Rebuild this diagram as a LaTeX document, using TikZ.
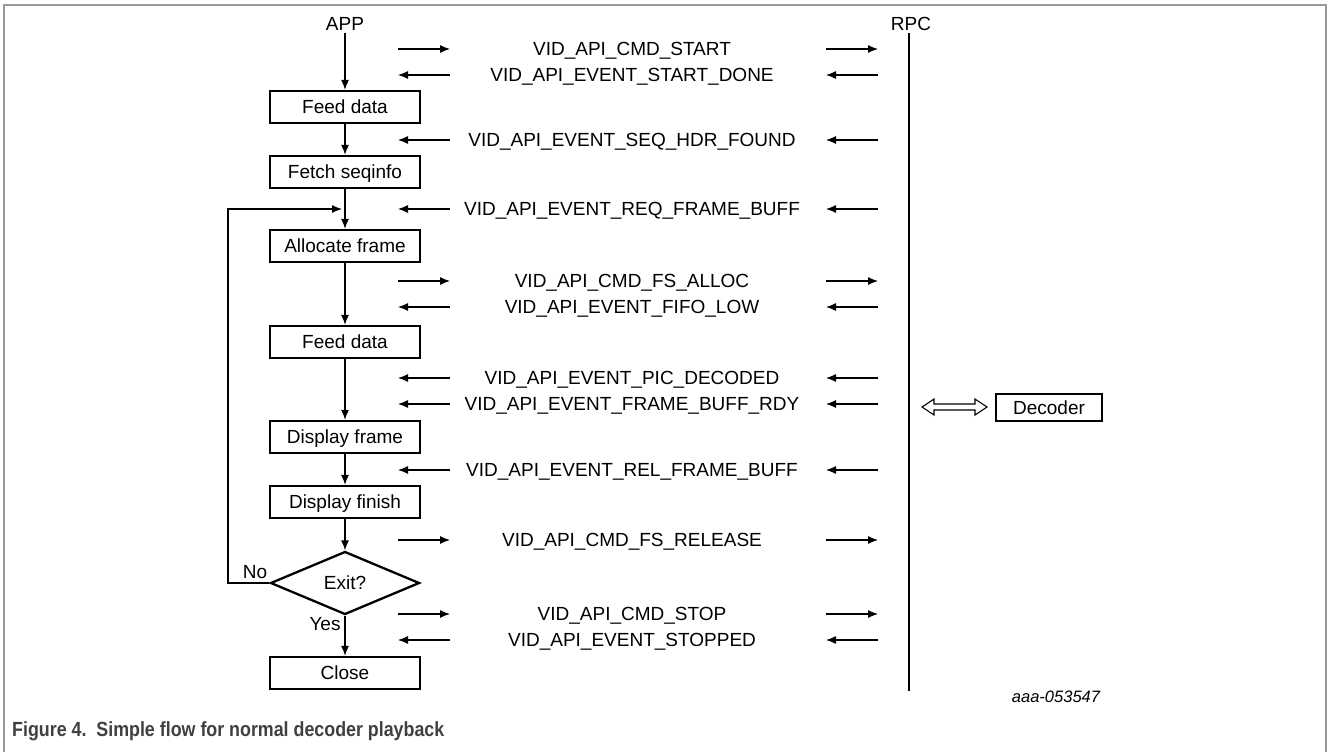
\documentclass[tikz,border=0pt]{standalone}
\usepackage{fontspec}
\setmainfont{Liberation Sans}
\newfontfamily\capfont[FakeStretch=0.87]{Liberation Sans}
\usetikzlibrary{arrows.meta,shapes.geometric}
\begin{document}
\begin{tikzpicture}[x=1pt,y=-1pt,
  txt/.style={font=\fontsize{19}{21}\selectfont,inner sep=0pt,text height=13.6pt,text depth=0pt},
  box/.style={txt,draw,line width=2.3pt,minimum width=150pt,minimum height=32pt},
  flow/.style={line width=1.2pt,-{Latex[length=10pt,width=8pt]}},
  msg/.style={line width=1.2pt,-{Latex[length=10pt,width=8pt]}},
  frame/.style={draw=black!40,line width=1.2pt}]
\useasboundingbox (0,0) rectangle (1328,752);
\draw[frame] (4,752) -- (4,5) -- (1326,5) -- (1326,752);

% lifelines
\node[txt] (app) at (345,24) {APP};
\node[txt] (rpc) at (911,24) {RPC};
\coordinate (rpcT) at (909,33);
\coordinate (rpcB) at (909,691);
\draw[line width=1.5pt] (rpcT) -- (rpcB);

% flow boxes
\node[box] (feed1) at (345,107) {Feed data};
\node[box] (fetch) at (345,172) {Fetch seqinfo};
\node[box] (alloc) at (345,246) {Allocate frame};
\node[box] (feed2) at (345,342) {Feed data};
\node[box] (dispf) at (345,437) {Display frame};
\node[box] (dispe) at (345,502) {Display finish};
\node[txt,draw,diamond,line width=2.3pt,minimum width=149pt,minimum height=63pt,aspect=2.37] (exit) at (345,583) {Exit?};
\node[box] (close) at (345,673) {Close};

\draw[flow,shorten <=2pt] (app) -- (feed1);
\draw[flow] (feed1) -- (fetch);
\draw[flow] (fetch) -- (alloc);
\draw[flow] (alloc) -- (feed2);
\draw[flow] (feed2) -- (dispf);
\draw[flow] (dispf) -- (dispe);
\draw[flow] (dispe) -- (exit);
\draw[flow] (exit) -- (close);

% loop back
\coordinate (loopL) at (228,583);
\coordinate (loopT) at (228,209);
\coordinate (loopE) at (342,209);
\draw[flow] (exit.west) -- (loopL) -- (loopT) -- (loopE);
\node[txt] (no) at (255,571.5) {No};
\node[txt] (yes) at (325,624) {Yes};

% messages
\foreach \i/\y/\t/\a/\b in {
  1/49/{VID\_API\_CMD\_START}/398/450,
  2/75/{VID\_API\_EVENT\_START\_DONE}/450/398,
  3/140/{VID\_API\_EVENT\_SEQ\_HDR\_FOUND}/450/398,
  4/209/{VID\_API\_EVENT\_REQ\_FRAME\_BUFF}/450/398,
  5/281/{VID\_API\_CMD\_FS\_ALLOC}/398/450,
  6/307/{VID\_API\_EVENT\_FIFO\_LOW}/450/398,
  7/378/{VID\_API\_EVENT\_PIC\_DECODED}/450/398,
  8/404/{VID\_API\_EVENT\_FRAME\_BUFF\_RDY}/450/398,
  9/470/{VID\_API\_EVENT\_REL\_FRAME\_BUFF}/450/398,
  10/540/{VID\_API\_CMD\_FS\_RELEASE}/398/450,
  11/614/{VID\_API\_CMD\_STOP}/398/450,
  12/640/{VID\_API\_EVENT\_STOPPED}/450/398}{
  \node[txt] (m\i) at (632,\y) {\t};
  \coordinate (la\i) at (\a,\y);
  \coordinate (lb\i) at (\b,\y);
  \coordinate (ra\i) at (\a+428,\y);
  \coordinate (rb\i) at (\b+428,\y);
  \draw[msg] (la\i) -- (lb\i);
  \draw[msg] (ra\i) -- (rb\i);
}

% decoder
\node[box,minimum width=106pt,minimum height=27pt,line width=2pt] (dec) at (1049,407.5) {Decoder};
\draw[line width=1.1pt,line join=miter] (922,407) -- (934,399) -- (934,404) -- (975,404) -- (975,399)
  -- (987,407) -- (975,415) -- (975,410) -- (934,410) -- (934,415) -- cycle;

\node[font=\fontsize{16.5}{18}\selectfont\itshape,inner sep=0pt] (id) at (1056,697) {aaa-053547};

\node[anchor=west,inner sep=0pt,text height=14.7pt,text depth=0pt,font=\capfont\bfseries\fontsize{20.5}{24}\selectfont,text=black!75] (cap) at (12,729.5) {Figure 4.\ \ Simple flow for normal decoder playback};
\end{tikzpicture}
\end{document}
